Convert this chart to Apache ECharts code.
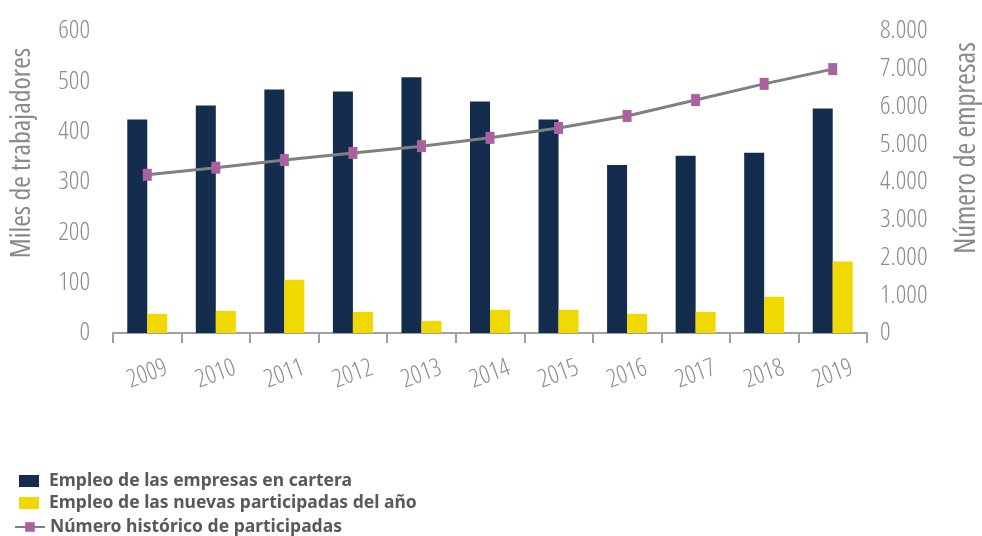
<!DOCTYPE html>
<html>
<head>
<meta charset="utf-8">
<script src="https://cdn.jsdelivr.net/npm/echarts@6/dist/echarts.min.js"></script>
<style>
html,body{margin:0;padding:0;background:#fff;}
#chart{width:982px;height:536px;}
</style>
</head>
<body>
<div id="chart"></div>
<script>
var years = ['2009','2010','2011','2012','2013','2014','2015','2016','2017','2018','2019'];
var empleoCartera = [424, 452, 484, 480, 508, 460, 424, 334, 352, 358, 446];
var empleoNuevas = [38, 44, 106, 42, 24, 46, 46, 38, 42, 72, 142];
var numeroParticipadas = [4190, 4380, 4580, 4770, 4950, 5170, 5430, 5750, 6170, 6600, 6990];
var leftTicks = {min: 0, max: 600, interval: 100};
var rightTicks = {min: 0, max: 8000, interval: 1000};

var seriesNames = ['Empleo de las empresas en cartera', 'Empleo de las nuevas participadas del año', 'Número histórico de participadas'];
var axisTitles = ['Miles de trabajadores', 'Número de empresas'];

var condFont = "'Open Sans', sans-serif";
var gray = '#8c8c8c';
var legendText = {color: '#595959', fontWeight: 'bold', fontSize: 17.5, fontFamily: "'Noto Sans', sans-serif"};

var chart = echarts.init(document.getElementById('chart'));
chart.setOption({
  animation: false,
  backgroundColor: '#ffffff',
  grid: {left: 113, right: 115, top: 31, bottom: 203, containLabel: false},
  legend: [
    {
      data: [seriesNames[0], seriesNames[1]],
      orient: 'vertical', left: 19, top: 472, padding: 0,
      itemWidth: 20, itemHeight: 12, itemGap: 4,
      icon: 'rect',
      textStyle: Object.assign({padding: [0,0,0,5]}, legendText)
    },
    {
      data: [seriesNames[2]],
      orient: 'vertical', left: 14, top: 518, padding: 0,
      itemWidth: 30, itemHeight: 12,
      textStyle: Object.assign({padding: [0,0,0,0]}, legendText)
    }
  ],
  xAxis: {
    type: 'category',
    data: years,
    axisLine: {lineStyle: {color: '#a0a0a0', width: 2}},
    axisTick: {show: true, length: 10, lineStyle: {color: '#a0a0a0', width: 2}},
    axisLabel: {interval: 0, rotate: 20, align: 'center', verticalAlign: 'middle', margin: 41, color: gray, fontSize: 25, fontStyle: 'condensed', fontWeight: 300, fontFamily: condFont}
  },
  yAxis: [
    {
      type: 'value', min: leftTicks.min, max: leftTicks.max, interval: leftTicks.interval,
      axisLine: {show: false}, axisTick: {show: false}, splitLine: {show: false},
      axisLabel: {margin: 23, color: gray, fontSize: 26, fontStyle: 'condensed', fontWeight: 300, fontFamily: condFont}
    },
    {
      type: 'value', min: rightTicks.min, max: rightTicks.max, interval: rightTicks.interval,
      axisLine: {show: false}, axisTick: {show: false}, splitLine: {show: false},
      axisLabel: {
        margin: 13, color: gray, fontSize: 26, fontStyle: 'condensed', fontWeight: 300, fontFamily: condFont,
        formatter: function (v) { return v === 0 ? '0' : String(v).replace(/\B(?=(\d{3})+(?!\d))/g, '.'); }
      }
    }
  ],
  graphic: [
    {type: 'text', x: 22, y: 153, rotation: Math.PI / 2,
     style: {text: axisTitles[0], fill: '#8a8a8a', fontSize: 28, fontStyle: 'condensed', fontFamily: condFont, align: 'center', verticalAlign: 'middle'}},
    {type: 'text', x: 967, y: 148, rotation: Math.PI / 2,
     style: {text: axisTitles[1], fill: '#8a8a8a', fontSize: 28.5, fontStyle: 'condensed', fontFamily: condFont, align: 'center', verticalAlign: 'middle'}}
  ],
  series: [
    {
      name: seriesNames[0], type: 'bar', yAxisIndex: 0, data: empleoCartera,
      barWidth: 20, barGap: '0%',
      itemStyle: {color: '#142c4e'}
    },
    {
      name: seriesNames[1], type: 'bar', yAxisIndex: 0, data: empleoNuevas,
      barWidth: 20, barGap: '0%',
      itemStyle: {color: '#f0d900'}
    },
    {
      name: seriesNames[2], type: 'line', yAxisIndex: 1, data: numeroParticipadas,
      symbol: 'rect', symbolSize: [9, 12],
      lineStyle: {color: '#808080', width: 3},
      itemStyle: {color: '#a9619f'},
      z: 5
    }
  ]
});
</script>
</body>
</html>
